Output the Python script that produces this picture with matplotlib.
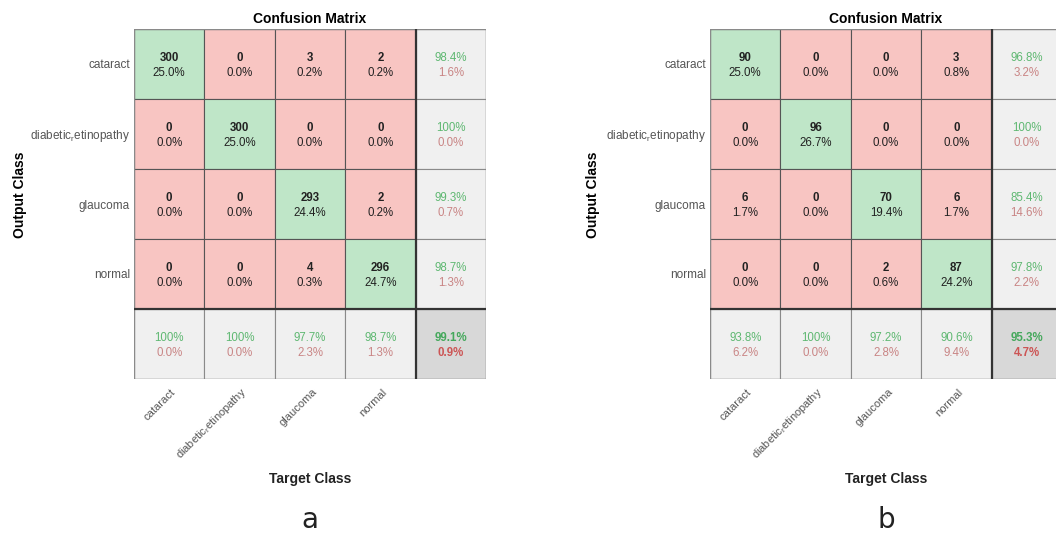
import matplotlib
matplotlib.use('Agg')
import matplotlib.pyplot as plt
from matplotlib.patches import Rectangle
import numpy as np

plt.rcParams['font.family'] = ['Liberation Sans', 'DejaVu Sans']
plt.rcParams['mathtext.fontset'] = 'custom'
plt.rcParams['mathtext.rm'] = 'Liberation Sans'
plt.rcParams['mathtext.it'] = 'Liberation Sans'
plt.rcParams['mathtext.default'] = 'rm'

classes = ['cataract', 'diabetic$_r$etinopathy', 'glaucoma', 'normal']
# rows = output class, columns = target class
cm_a = [[300, 0, 3, 2],
        [0, 300, 0, 0],
        [0, 0, 293, 2],
        [0, 0, 4, 296]]
cm_b = [[90, 0, 0, 3],
        [0, 96, 0, 0],
        [6, 0, 70, 6],
        [0, 0, 2, 87]]
panel_tags = ['a', 'b']

GREEN = '#bfe6c8'
RED = '#f8c5c2'
GREY = '#f0f0f0'
CORNER = '#d8d8d8'
TXT_GREEN = '#5fb872'
TXT_RED = '#c98585'
FS = 8.3
W, H = 1056, 536


def pct(v):
    return '100%' if round(v, 1) >= 100 else f'{v:.1f}%'


def conf_matrix(ax, cm):
    cm = np.array(cm)
    n = len(cm)
    total = cm.sum()
    for i in range(n):
        for j in range(n):
            ax.add_patch(Rectangle((j, i), 1, 1, fc=GREEN if i == j else RED,
                                   ec='#555555', lw=0.8))
            ax.text(j + .5, i + .41, str(cm[i, j]), ha='center', va='center',
                    fontsize=FS, fontweight='bold', color='#222222')
            ax.text(j + .5, i + .63, pct(100 * cm[i, j] / total), ha='center',
                    va='center', fontsize=FS, color='#222222')
    # precision (right column) and recall (bottom row)
    for k in range(n):
        p = 100 * cm[k, k] / cm[k].sum()
        r = 100 * cm[k, k] / cm[:, k].sum()
        for (x, y), v in [((n, k), p), ((k, n), r)]:
            ax.add_patch(Rectangle((x, y), 1, 1, fc=GREY, ec='#8a8a8a', lw=0.8))
            ax.text(x + .5, y + .41, pct(v), ha='center', va='center',
                    fontsize=FS, color=TXT_GREEN)
            ax.text(x + .5, y + .63, pct(100 - v), ha='center', va='center',
                    fontsize=FS, color=TXT_RED)
    acc = 100 * np.trace(cm) / total
    ax.add_patch(Rectangle((n, n), 1, 1, fc=CORNER, ec='#8a8a8a', lw=0.8))
    ax.text(n + .5, n + .41, pct(acc), ha='center', va='center',
            fontsize=FS, fontweight='bold', color='#45a85c')
    ax.text(n + .5, n + .63, pct(100 - acc), ha='center', va='center',
            fontsize=FS, fontweight='bold', color='#cc5555')
    ax.plot([n, n], [0, n + 1], color='#333333', lw=1.6)
    ax.plot([0, n + 1], [n, n], color='#333333', lw=1.6)
    ax.add_patch(Rectangle((0, 0), n + 1, n + 1, fc='none', ec='#8a8a8a', lw=1.0))

    ax.set_xlim(0, n + 1)
    ax.set_ylim(n + 1, 0)
    for s in ax.spines.values():
        s.set_visible(False)
    ax.set_yticks(np.arange(n) + .5)
    ax.set_yticklabels(classes, fontsize=8.5, color='#555555')
    ax.set_xticks([])
    ax.tick_params(axis='y', length=0, pad=3)
    for j, c in enumerate(classes):
        ax.text(j + .57, n + 1.16, c, rotation=45, rotation_mode='anchor',
                ha='right', va='center', fontsize=8, color='#555555')
    ax.set_title('Confusion Matrix', fontsize=10, fontweight='bold', pad=4)


fig = plt.figure(figsize=(W / 100, H / 100), dpi=100)
for left, cm, tag, ylab_x in [(134, cm_a, panel_tags[0], 20),
                              (710, cm_b, panel_tags[1], 593)]:
    ax = fig.add_axes([left / W, (H - 379) / H, 352 / W, 350 / H])
    conf_matrix(ax, cm)
    cx = (left + 176) / W
    fig.text(ylab_x / W, 1 - 195 / H, 'Output Class', rotation=90, ha='center',
             va='center', fontsize=10, fontweight='bold')
    fig.text(cx, 1 - 479 / H, 'Target Class', ha='center', va='center',
             fontsize=10, fontweight='bold', color='#222222')
    fig.text(cx, 1 - 520 / H, tag, ha='center', va='center', fontsize=20,
             family='DejaVu Sans', color='#222222')

fig.savefig('out.png', dpi=100, facecolor='white')
